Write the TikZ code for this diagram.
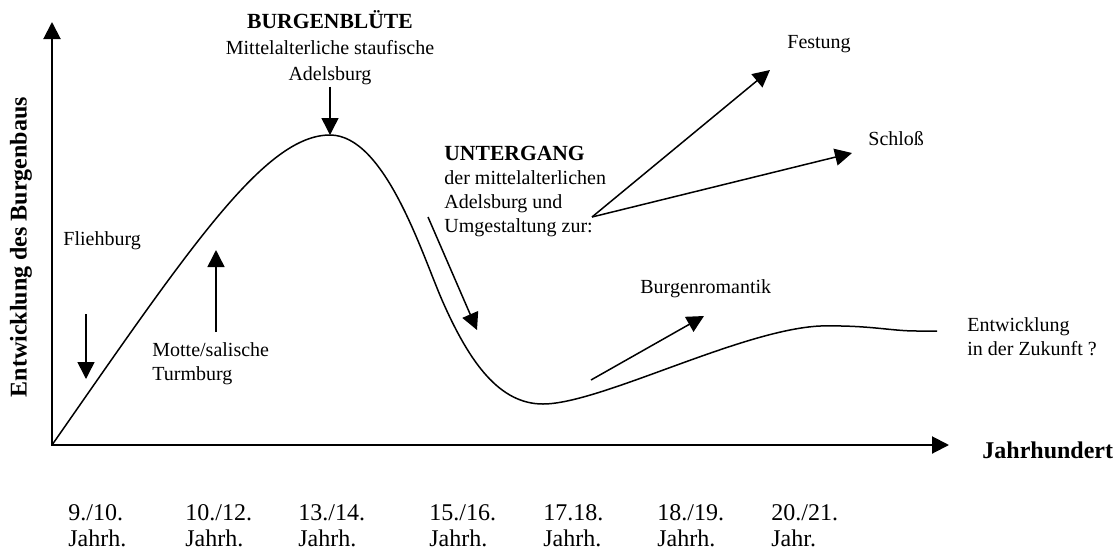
\documentclass[tikz,border=0pt]{standalone}
\usepackage{fontspec}
\setmainfont{Liberation Serif}
\usepackage{tikz}
\usetikzlibrary{arrows.meta}

\tikzset{
  tip/.style={-{Triangle[length=8.5pt,width=8.5pt]}},
  arr/.style={tip, line width=0.75pt},
  lbl/.style={inner sep=0pt, align=left, font=\fontsize{10}{12}\selectfont},
  yr/.style={inner sep=0pt, align=left, font=\fontsize{12}{13}\selectfont},
  axlbl/.style={inner sep=0pt, font=\fontsize{12}{14}\selectfont\bfseries}
}

\begin{document}
\begin{tikzpicture}[x=0.5pt, y=-0.5pt]
    \useasboundingbox (0,0) rectangle (1115,553);

    % Axes
    \coordinate (O) at (52,445);
    \coordinate (ytop) at (52,22);
    \coordinate (xend) at (949,445);
    \draw[{Triangle[length=8.5pt,width=8.5pt]}-{Triangle[length=8.5pt,width=8.5pt]}, line width=1pt] (ytop) -- (O) -- (xend);
    \node[axlbl, rotate=90] (ylab) at (21,247) {Entwicklung des Burgenbaus};
    \node[axlbl, anchor=base west] (xlab) at (982,458) {Jahrhundert};

    % Centuries (base = last line)
    \foreach \i/\x/\a/\b in {1/68/{9./10.}/{Jahrh.}, 2/185/{10./12.}/{Jahrh.},
        3/298/{13./14.}/{Jahrh.}, 4/429/{15./16.}/{Jahrh.}, 5/543/{17.18.}/{Jahrh.},
        6/657/{18./19.}/{Jahrh.}, 7/771/{20./21.}/{Jahr.}}
        \node[yr, anchor=base west] (t\i) at (\x,546) {\a\\\b};

    % Curve
    \coordinate (peak) at (330,135);
    \coordinate (low) at (543,404);
    \draw[line width=0.75pt] (O) .. controls (190,247) and (265,135) .. (peak)
        .. controls (385,135) and (422,254) .. (442,300)
        .. controls (470,364) and (500,404) .. (low)
        .. controls (600,404) and (740,330) .. (820,326)
        .. controls (870,325) and (890,331) .. (917,331) -- (937,331);

    % Labels
    \node[lbl, align=center, anchor=base, font=\fontsize{10}{13}\selectfont] (bluete) at (330,80)
        {{\fontsize{10.8}{13}\selectfont\bfseries BURGENBLÜTE}\\Mittelalterliche staufische\\Adelsburg};
    \node[lbl, anchor=base west] (flieh) at (63,245) {Fliehburg};
    \node[lbl, anchor=base west] (motte) at (152,380) {Motte/salische\\Turmburg};
    \node[lbl, anchor=base west] (unterg) at (444,232)
        {{\fontsize{10.8}{12}\selectfont\bfseries UNTERGANG}\\der mittelalterlichen\\Adelsburg und\\Umgestaltung zur:};
    \node[lbl, anchor=base west] (fest) at (787,48) {Festung};
    \node[lbl, anchor=base west] (schl) at (868,145) {Schloß};
    \node[lbl, anchor=base west] (roman) at (640,293) {Burgenromantik};
    \node[lbl, anchor=base west] (zuk) at (967,355) {Entwicklung\\in der Zukunft ?};

    % Arrows
    \coordinate (fork) at (592,217);
    \draw[arr, shorten <=1pt] (bluete.south) -- (peak);
    \draw[arr] (86,314) coordinate (fl1) -- (86,379) coordinate (fl2);
    \draw[arr] (216,332) coordinate (mo1) -- (216,250) coordinate (mo2);
    \draw[arr] (428,217) coordinate (dn1) -- (477,330) coordinate (dn2);
    \draw[arr] (fork) -- (770,70) coordinate (festtip);
    \draw[arr] (fork) -- (852,153) coordinate (schltip);
    \draw[arr] (591,380) coordinate (ro1) -- (704,316) coordinate (ro2);

\end{tikzpicture}
\end{document}
